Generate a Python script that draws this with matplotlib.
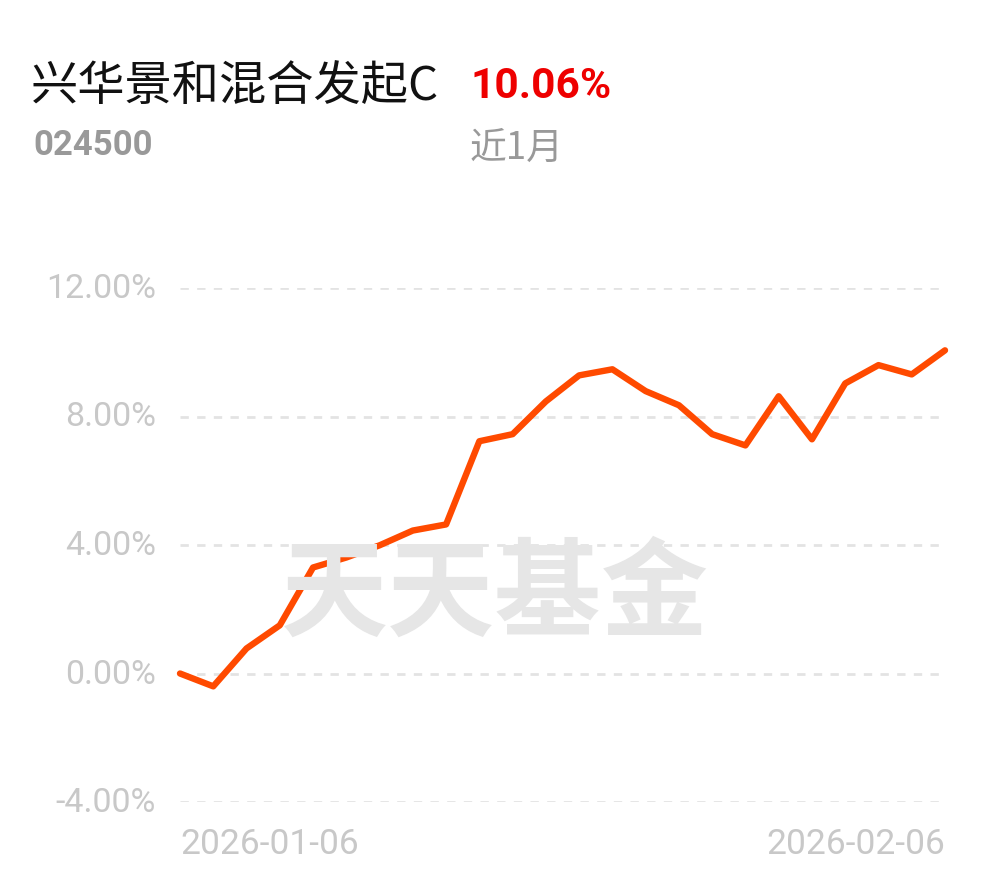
import matplotlib
matplotlib.use("Agg")
import matplotlib.pyplot as plt
import numpy as np

fund_name = "兴华景和混合发起C"
fund_code = "024500"
period_return = "10.06%"
period_label = "近1月"

dates = ["2026-01-06", "2026-01-07", "2026-01-08", "2026-01-09", "2026-01-12",
         "2026-01-13", "2026-01-14", "2026-01-15", "2026-01-16", "2026-01-19",
         "2026-01-20", "2026-01-21", "2026-01-22", "2026-01-23", "2026-01-26",
         "2026-01-27", "2026-01-28", "2026-01-29", "2026-01-30", "2026-02-02",
         "2026-02-03", "2026-02-04", "2026-02-05", "2026-02-06"]
returns = [0.00, -0.40, 0.78, 1.50, 3.30, 3.61, 3.99, 4.45, 4.64, 7.23,
           7.45, 8.47, 9.28, 9.47, 8.79, 8.35, 7.45, 7.10, 8.63, 7.29,
           9.03, 9.60, 9.31, 10.06]
yticks = [-4, 0, 4, 8, 12]
ytick_labels = ["-4.00%", "0.00%", "4.00%", "8.00%", "12.00%"]
xtick_labels = [dates[0], dates[-1]]

CJK = ["Noto Sans CJK SC", "DejaVu Sans"]
NUM = ["Roboto", "DejaVu Sans"]

W, H = 990, 878
fig = plt.figure(figsize=(W / 100, H / 100), dpi=100)
fig.patch.set_facecolor("white")

x = np.arange(len(returns))
ax = fig.add_axes([180 / W, 75 / H, 765 / W, 514 / H])
ax.set_xlim(0, len(returns) - 1)
ax.set_ylim(-4, 12)
for s in ax.spines.values():
    s.set_visible(False)
ax.set_xticks([])
ax.set_yticks([])

for v in yticks:
    ax.axhline(v, color="#e3e3e3", lw=2, ls=(0, (3, 3)), zorder=1, xmax=763 / 765)

# watermark
fig.text(495 / W, 1 - 596 / H, "天天基金", family=CJK, fontsize=77, fontweight="bold",
         color="#e6e6e6", ha="center", va="center", zorder=2)

ax.plot(x, returns, color="#FF4A00", lw=4.6, solid_joinstyle="round",
        solid_capstyle="round", zorder=5, clip_on=False)

# y tick labels
for v, lab in zip(yticks, ytick_labels):
    ax.annotate(lab, xy=(0, v), xycoords=("axes fraction", "data"),
                xytext=(-24, 0), textcoords="offset pixels",
                ha="right", va="center", fontsize=24.5, family=NUM, color="#c8c8c8")

# x tick labels
fig.text(180 / W, 1 - 845 / H, xtick_labels[0], fontsize=25.5, family=NUM,
         color="#c8c8c8", ha="left", va="center")
fig.text(945 / W, 1 - 845 / H, xtick_labels[1], fontsize=25.5, family=NUM,
         color="#c8c8c8", ha="right", va="center")

# header
fig.text(31 / W, 1 - 87 / H, fund_name, family=CJK, fontsize=34, color="#111111",
         ha="left", va="center")
fig.text(470 / W, 1 - 87 / H, period_return, family=NUM, fontsize=30.5, fontweight="bold",
         color="#ee0000", ha="left", va="center")
fig.text(33 / W, 1 - 146 / H, fund_code, family=NUM, fontsize=25, fontweight="bold",
         color="#999999", ha="left", va="center")
fig.text(470 / W, 1 - 148 / H, period_label, family=CJK, fontsize=26.5,
         color="#999999", ha="left", va="center")

fig.savefig("out.png", dpi=100, facecolor="white")
